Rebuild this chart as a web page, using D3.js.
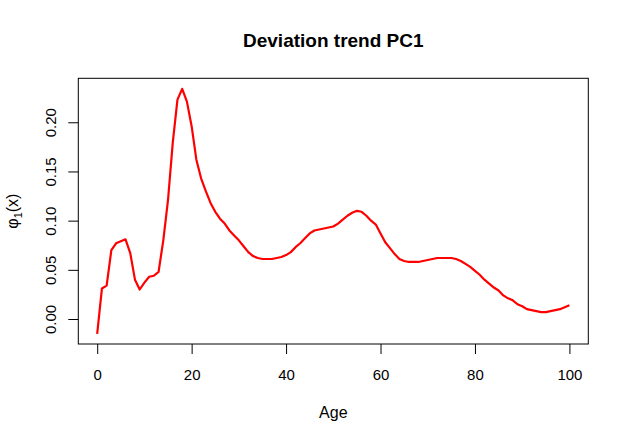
<!DOCTYPE html>
<html>
<head>
<meta charset="utf-8">
<script src="https://cdn.jsdelivr.net/npm/d3@7"></script>
<style>
  body { margin: 0; background: #fff; }
  svg { display: block; font-family: "Liberation Sans", Arial, sans-serif; }
</style>
</head>
<body>
<svg id="canvas" width="629" height="442"></svg>
<script>
// ages 0..100 and the first principal component
let ages = d3.range(0, 101)
let pc1 = [
  -0.015, 0.031, 0.034, 0.070, 0.077, 0.079, 0.081, 0.067, 0.040, 0.030,
  0.037, 0.043, 0.044, 0.048, 0.080, 0.121, 0.179, 0.223, 0.234, 0.221,
  0.196, 0.162, 0.143, 0.130, 0.118, 0.109, 0.102, 0.097, 0.090, 0.085,
  0.080, 0.074, 0.068, 0.064, 0.062, 0.061, 0.061, 0.061, 0.062, 0.063,
  0.065, 0.068, 0.073, 0.077, 0.082, 0.087, 0.090, 0.091, 0.092, 0.093,
  0.094, 0.097, 0.101, 0.105, 0.108, 0.110, 0.109, 0.105, 0.100, 0.096,
  0.087, 0.078, 0.072, 0.066, 0.061, 0.059, 0.058, 0.058, 0.058, 0.059,
  0.060, 0.061, 0.062, 0.062, 0.062, 0.062, 0.061, 0.059, 0.056, 0.053,
  0.049, 0.045, 0.040, 0.036, 0.032, 0.029, 0.024, 0.021, 0.019, 0.015,
  0.013, 0.010, 0.009, 0.008, 0.007, 0.007, 0.008, 0.009, 0.010, 0.012,
  0.014
]
let xTicks = [0, 20, 40, 60, 80, 100]
let yTicks = [0.00, 0.05, 0.10, 0.15, 0.20]

let canvas = d3.select('#canvas')

// plot region (R style box)
let boxL = 78.3, boxR = 588.3, boxT = 78.3, boxB = 344

let xScale = d3.scaleLinear().domain([-4, 104]).range([boxL, boxR])
let yScale = d3.scaleLinear().domain([-0.0254, 0.2447]).range([boxB, boxT])

// box
canvas.append('rect')
  .attr('x', boxL).attr('y', boxT)
  .attr('width', boxR - boxL).attr('height', boxB - boxT)
  .attr('fill', 'none').attr('stroke', '#000').attr('stroke-width', 1)

// x axis
let xAxis = d3.axisBottom(xScale).tickValues(xTicks).tickSize(10).tickPadding(15)
  .tickFormat(d3.format('d'))
canvas.append('g')
  .attr('transform', 'translate(0,' + boxB + ')')
  .call(xAxis)
  .call(g => g.select('.domain').attr('stroke', 'none'))
  .call(g => g.selectAll('text').attr('font-size', 15).attr('fill', '#000')
    .attr('font-family', '"Liberation Sans", Arial, sans-serif'))

// y axis, labels rotated like R's las=0
let yAxis = d3.axisLeft(yScale).tickValues(yTicks).tickSize(10)
  .tickFormat(d3.format('.2f'))
canvas.append('g')
  .attr('transform', 'translate(' + boxL + ',0)')
  .call(yAxis)
  .call(g => g.select('.domain').attr('stroke', 'none'))
  .call(g => g.selectAll('.tick text')
    .attr('font-size', 15).attr('fill', '#000')
    .attr('font-family', '"Liberation Sans", Arial, sans-serif')
    .attr('x', null).attr('dy', null)
    .attr('text-anchor', 'middle')
    .attr('transform', 'translate(-22.5,0) rotate(-90)'))

// the red trend line
let line = d3.line()
  .x((d, i) => xScale(ages[i]))
  .y(d => yScale(d))

canvas.append('path')
  .datum(pc1)
  .attr('d', line)
  .attr('fill', 'none')
  .attr('stroke', '#ff0000')
  .attr('stroke-width', 2.2)
  .attr('stroke-linejoin', 'round')

// title
canvas.append('text')
  .attr('x', (boxL + boxR) / 2).attr('y', 47)
  .attr('text-anchor', 'middle')
  .attr('font-size', 19).attr('font-weight', 'bold')
  .text('Deviation trend PC1')

// x label
canvas.append('text')
  .attr('x', (boxL + boxR) / 2).attr('y', 418)
  .attr('text-anchor', 'middle')
  .attr('font-size', 16)
  .text('Age')

// y label with subscript
let yLab = canvas.append('text')
  .attr('transform', 'translate(18,' + (boxT + boxB) / 2 + ') rotate(-90)')
  .attr('text-anchor', 'middle')
  .attr('font-size', 16)
yLab.append('tspan').text('φ')
yLab.append('tspan').attr('font-size', 11).attr('dy', 4).text('1')
yLab.append('tspan').attr('dy', -4).text('(x)')
</script>
</body>
</html>
